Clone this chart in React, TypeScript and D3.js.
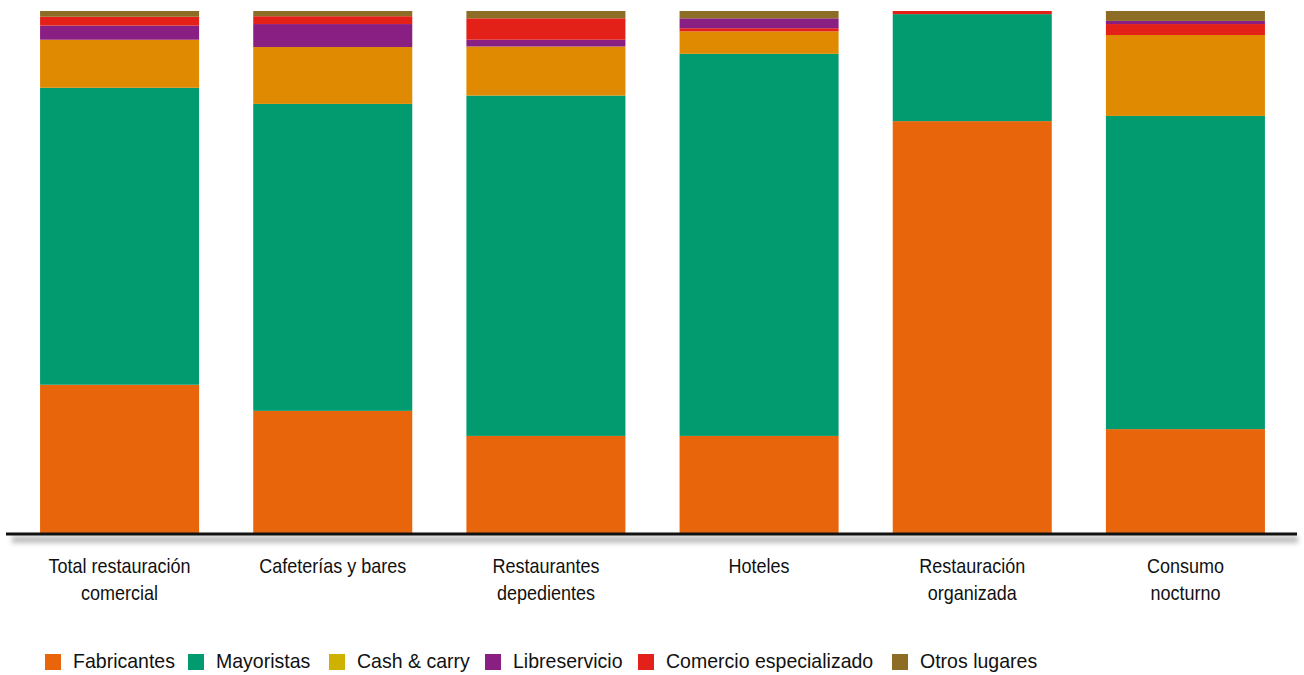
import React from "react";
import * as d3 from "d3";

const categories = [
  ["Total restauración", "comercial"],
  ["Cafeterías y bares"],
  ["Restaurantes", "depedientes"],
  ["Hoteles"],
  ["Restauración", "organizada"],
  ["Consumo", "nocturno"],
];
const seriesNames = ["Fabricantes", "Mayoristas", "Cash & carry", "Libreservicio", "Comercio especializado", "Otros lugares"];
const fabricantes = [28.4, 23.4, 18.6, 18.6, 78.9, 19.9];
const mayoristas = [56.9, 58.8, 65.2, 73.2, 20.5, 60.0];
const cashCarry = [9.2, 10.9, 9.4, 4.3, 0, 15.5];
const libreservicio = [2.7, 4.4, 1.3, 1.9, 0, 0.6];
const comercio = [1.7, 1.5, 4.1, 0.6, 0.6, 2.1];
const otros = [1.1, 1.0, 1.4, 1.4, 0, 1.9];
// stacking order (bottom to top) per category, as in the source picture
const stackOrder = [
  [0, 1, 2, 3, 4, 5],
  [0, 1, 2, 3, 4, 5],
  [0, 1, 2, 3, 4, 5],
  [0, 1, 2, 4, 3, 5],
  [0, 1, 2, 3, 4, 5],
  [0, 1, 2, 4, 3, 5],
];
const barColors = ["#E9650B", "#029A6F", "#DF8A00", "#8A1F83", "#E32118", "#8D6D25"];
const legendColors = ["#E9650B", "#029A6F", "#CDB300", "#8A1F83", "#E32118", "#8D6D25"];

const values = [fabricantes, mayoristas, cashCarry, libreservicio, comercio, otros];
const FONT = "'Liberation Sans', Arial, sans-serif";

export default function App() {
  const W = 1304, H = 675;
  const x = d3.scaleBand<number>().domain(d3.range(categories.length)).range([13, 1292]).paddingInner(0.254).paddingOuter(0.127);
  const y = d3.scaleLinear().domain([0, 100]).range([533, 11]);

  const rects: React.ReactNode[] = [];
  categories.forEach((_, ci) => {
    let acc = 0;
    stackOrder[ci].forEach((si) => {
      const v = values[si][ci];
      const y0 = y(acc), y1 = y(acc + v);
      acc += v;
      if (v <= 0) return;
      rects.push(
        <rect key={`${ci}-${si}`} x={x(ci)} y={y1} width={x.bandwidth()} height={y0 - y1} fill={barColors[si]} />
      );
    });
  });

  const legendX = [45, 188, 329, 485, 638, 892];

  return (
    <svg width={W} height={H} style={{ position: "absolute", left: 0, top: 0, background: "#fff" }}>
      <defs>
        <filter id="blur" filterUnits="userSpaceOnUse" x={0} y={520} width={1304} height={40}>
          <feGaussianBlur stdDeviation="2.5" />
        </filter>
      </defs>
      {rects}
      <rect x={12} y={536} width={1286} height={7} fill="#bdbdbd" filter="url(#blur)" />
      <line x1={6} x2={1297} y1={534} y2={534} stroke="#111" strokeWidth={3} />
      {categories.map((lines, ci) => {
        const cx = x(ci)! + x.bandwidth() / 2;
        return (
          <text key={ci} transform={`translate(${cx},573) scale(0.9,1)`} textAnchor="middle" fontFamily={FONT} fontSize={20} fill="#111">
            {lines.map((l, li) => (
              <tspan key={li} x={0} dy={li === 0 ? 0 : 27}>{l}</tspan>
            ))}
          </text>
        );
      })}
      {seriesNames.map((n, i) => (
        <g key={n} transform={`translate(${legendX[i]},0)`}>
          <rect x={0} y={654} width={16} height={16} fill={legendColors[i]} />
          <text transform={`translate(28,668) scale(0.93,1)`} fontFamily={FONT} fontSize={21} fill="#111">{n}</text>
        </g>
      ))}
    </svg>
  );
}
